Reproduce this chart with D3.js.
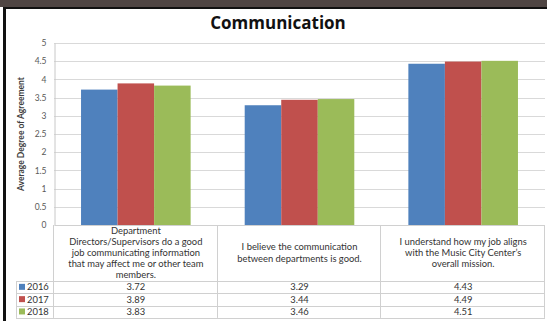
<!DOCTYPE html>
<html>
<head>
<meta charset="utf-8">
<script src="https://cdn.jsdelivr.net/npm/d3@7"></script>
<style>
  body { margin: 0; background: #fff; }
  svg { display: block; font-family: Lato, "Open Sans", sans-serif; }
  .grid line { stroke: #d9d9d9; }
  .tbl line { stroke: #d0d0d0; }
</style>
</head>
<body>
<div id="chart"></div>
<script>
const categories = [
  ['Department', 'Directors/Supervisors do a good', 'job communicating information', 'that may affect me or other team', 'members.'],
  ['I believe the communication', 'between departments is good.'],
  ['I understand how my job aligns', 'with the Music City Center\u2019s', 'overall mission.']
]
const years = ['2016', '2017', '2018']
const values2016 = [3.72, 3.29, 4.43]
const values2017 = [3.89, 3.44, 4.49]
const values2018 = [3.83, 3.46, 4.51]
const yTicks = [0, 0.5, 1, 1.5, 2, 2.5, 3, 3.5, 4, 4.5, 5]

const series = [values2016, values2017, values2018]
const colors = ['#4f81bd', '#c0504d', '#9bbb59']

const W = 547, H = 321
const margin = { top: 43, left: 54, right: 2 }
const plotBottom = 225
const tableLeft = 16
const rowTop = 281, rowH = 12.3

const svg = d3.select('#chart').append('svg')
  .attr('width', W).attr('height', H)

// frame
svg.append('rect').attr('x', 0).attr('y', 0).attr('width', W).attr('height', 7).attr('fill', '#4f4543')
svg.append('rect').attr('x', 3).attr('y', 7).attr('width', W - 3).attr('height', 2).attr('fill', '#111')
svg.append('rect').attr('x', 3).attr('y', 7).attr('width', 3).attr('height', H - 7).attr('fill', '#111')

const x0 = d3.scaleBand().domain(d3.range(categories.length))
  .range([margin.left, W - margin.right])
const x1 = d3.scaleBand().domain(d3.range(years.length))
  .range([0, x0.bandwidth()]).paddingOuter(0.74).paddingInner(0)
const y = d3.scaleLinear().domain([0, 5]).range([plotBottom, margin.top])

svg.append('text')
  .attr('x', 278).attr('y', 29)
  .attr('text-anchor', 'middle')
  .attr('font-family', '"Open Sans", sans-serif')
  .attr('font-weight', 'bold').attr('font-size', 17)
  .attr('fill', '#111')
  .text('Communication')

// gridlines
svg.append('g').classed('grid', true)
  .selectAll('line').data(yTicks.filter(d => d > 0)).enter()
  .append('line')
  .attr('x1', margin.left).attr('x2', W - margin.right)
  .attr('y1', d => Math.round(y(d)) + 0.5).attr('y2', d => Math.round(y(d)) + 0.5)

const yAxis = d3.axisLeft(y).tickValues(yTicks).tickSize(0).tickPadding(8)
  .tickFormat(d => String(d))
svg.append('g')
  .attr('transform', 'translate(' + (margin.left + 0.5) + ',0)')
  .call(yAxis)
  .call(g => g.select('.domain').attr('stroke', '#c8c8c8'))
  .call(g => g.selectAll('text').attr('fill', '#595959').attr('font-size', 8.5)
    .attr('font-family', 'Lato, sans-serif'))

svg.append('text')
  .attr('transform', 'translate(24,134) rotate(-90)')
  .attr('text-anchor', 'middle')
  .attr('font-size', 8.5).attr('font-weight', 'bold').attr('fill', '#404040')
  .text('Average Degree of Agreement')

// bars
const groups = svg.append('g').selectAll('g')
  .data(categories.map((c, i) => i)).enter()
  .append('g')
  .attr('transform', i => 'translate(' + x0(i) + ',0)')

groups.selectAll('rect')
  .data(i => series.map((s, j) => ({ j: j, v: s[i] }))).enter()
  .append('rect')
  .attr('x', d => x1(d.j))
  .attr('width', x1.bandwidth())
  .attr('y', d => y(d.v))
  .attr('height', d => y(0) - y(d.v))
  .attr('fill', d => colors[d.j])

// data table
const tbl = svg.append('g').classed('tbl', true)
const bottom = rowTop + rowH * years.length
tbl.append('line').attr('x1', margin.left + 0.5).attr('x2', W - margin.right)
  .attr('y1', plotBottom + 0.5).attr('y2', plotBottom + 0.5).attr('stroke', '#c8c8c8')
d3.range(years.length + 1).forEach(r => {
  const yy = Math.round(rowTop + r * rowH) + 0.5
  tbl.append('line').attr('x1', tableLeft).attr('x2', W - margin.right).attr('y1', yy).attr('y2', yy)
})
const vx = [margin.left].concat(categories.map((c, i) => x0(i) + x0.bandwidth()))
vx.forEach(v => {
  tbl.append('line').attr('x1', Math.round(v) - 0.5).attr('x2', Math.round(v) - 0.5)
    .attr('y1', plotBottom).attr('y2', bottom)
})
tbl.append('line').attr('x1', tableLeft + 0.5).attr('x2', tableLeft + 0.5)
  .attr('y1', rowTop).attr('y2', bottom)

// category header text
categories.forEach((lines, i) => {
  const cy = (plotBottom + rowTop) / 2
  const lh = 11.2
  const t = svg.append('text')
    .attr('text-anchor', 'middle')
    .attr('font-size', 9.4).attr('fill', '#333')
  lines.forEach((l, k) => {
    t.append('tspan')
      .attr('x', x0(i) + x0.bandwidth() / 2)
      .attr('y', cy + (k - (lines.length - 1) / 2) * lh + 3)
      .text(l)
  })
})

// rows
years.forEach((yr, r) => {
  const cy = rowTop + (r + 0.5) * rowH + 3.2
  svg.append('rect').attr('x', 19).attr('y', cy - 6.5).attr('width', 6).attr('height', 6).attr('fill', colors[r])
  svg.append('text').attr('x', 27).attr('y', cy).attr('font-size', 9.4).attr('fill', '#333').text(yr)
  series[r].forEach((v, i) => {
    svg.append('text')
      .attr('x', x0(i) + x0.bandwidth() / 2).attr('y', cy)
      .attr('text-anchor', 'middle').attr('font-size', 9.4).attr('fill', '#333')
      .text(v.toFixed(2))
  })
})
</script>
</body>
</html>
